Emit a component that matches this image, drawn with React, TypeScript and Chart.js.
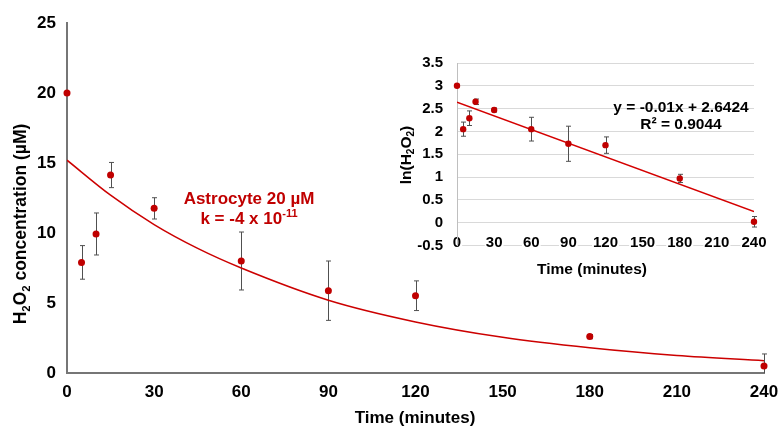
import React, { useEffect, useRef } from "react";
import { Chart, registerables } from "chart.js";
Chart.register(...registerables);

const FONT = '"Liberation Sans", Arial, Helvetica, sans-serif';

// ---- Data ----
const times = [0, 5, 10, 15, 30, 60, 90, 120, 180, 240];
const concentration = [20, 7.9, 9.93, 14.14, 11.76, 8.0, 5.88, 5.52, 2.6, 0.5];
const concentrationError = [0, 1.2, 1.5, 0.9, 0.76, 2.07, 2.12, 1.06, 0.15, 0.86];

const fitTimes = [0, 15, 30, 45, 60, 90, 120, 150, 180, 210, 240];
const fitConcentration = [15.2, 12.7, 10.6, 8.9, 7.5, 5.2, 3.65, 2.55, 1.8, 1.25, 0.88];

const lnConcentration = [3.0, 2.05, 2.29, 2.65, 2.47, 2.05, 1.73, 1.7, 0.97, 0.02];
const lnError = [0, 0.155, 0.16, 0.06, 0.045, 0.26, 0.385, 0.18, 0.09, 0.115];

const trendTimes = [0, 240];
const trendLn = [2.6424, 0.2424];

type Seg = { t: string; sub?: boolean; sup?: boolean };
const mainYTitle: Seg[] = [
  { t: "H" }, { t: "2", sub: true }, { t: "O" }, { t: "2", sub: true }, { t: " concentration (µM)" },
];
const xTitle: Seg[] = [{ t: "Time (minutes)" }];
const insetYTitle: Seg[] = [
  { t: "ln(H" }, { t: "2", sub: true }, { t: "O" }, { t: "2", sub: true }, { t: ")" },
];
const annotationLine1: Seg[] = [{ t: "Astrocyte 20 µM" }];
const annotationLine2: Seg[] = [{ t: "k = -4 x 10" }, { t: "-11", sup: true }];
const equationLine1: Seg[] = [{ t: "y = -0.01x + 2.6424" }];
const equationLine2: Seg[] = [{ t: "R² = 0.9044" }];

const RED = "#C00000";

function drawRich(
  ctx: CanvasRenderingContext2D,
  segs: Seg[],
  cx: number,
  cy: number,
  size: number,
  color: string,
  rotate = false
) {
  const small = size * 0.65;
  const widths = segs.map((s) => {
    ctx.font = `bold ${s.sub || s.sup ? small : size}px ${FONT}`;
    return ctx.measureText(s.t).width;
  });
  const total = widths.reduce((a, b) => a + b, 0);
  ctx.save();
  ctx.translate(cx, cy);
  if (rotate) ctx.rotate(-Math.PI / 2);
  ctx.fillStyle = color;
  ctx.textBaseline = "alphabetic";
  ctx.textAlign = "left";
  let x = -total / 2;
  const base = size * 0.36;
  segs.forEach((s, i) => {
    ctx.font = `bold ${s.sub || s.sup ? small : size}px ${FONT}`;
    const dy = s.sub ? base + size * 0.22 : s.sup ? base - size * 0.42 : base;
    ctx.fillText(s.t, x, dy);
    x += widths[i];
  });
  ctx.restore();
}

function errorBars(id: string, xs: number[], ys: number[], errs: number[], color: string, cap: number) {
  return {
    id,
    beforeDatasetsDraw(chart: any) {
      const { ctx, chartArea, scales } = chart;
      ctx.save();
      ctx.beginPath();
      ctx.rect(chartArea.left - 6, chartArea.top, chartArea.right - chartArea.left + 12, chartArea.bottom - chartArea.top);
      ctx.clip();
      ctx.strokeStyle = color;
      ctx.lineWidth = 1;
      xs.forEach((xv, i) => {
        const e = errs[i];
        if (!e) return;
        const px = Math.round(scales.x.getPixelForValue(xv)) + 0.5;
        const top = scales.y.getPixelForValue(ys[i] + e);
        const bot = scales.y.getPixelForValue(ys[i] - e);
        ctx.beginPath();
        ctx.moveTo(px, top);
        ctx.lineTo(px, bot);
        ctx.moveTo(px - cap, top);
        ctx.lineTo(px + cap, top);
        ctx.moveTo(px - cap, bot);
        ctx.lineTo(px + cap, bot);
        ctx.stroke();
      });
      ctx.restore();
    },
  };
}

const fixX = (h: number) => (s: any) => {
  s.height = h;
  s.paddingLeft = 0;
  s.paddingRight = 0;
};
const fixY = (w: number) => (s: any) => {
  s.width = w;
  s.paddingTop = 0;
  s.paddingBottom = 0;
};

export default function App() {
  const mainRef = useRef<HTMLCanvasElement>(null);
  const insetRef = useRef<HTMLCanvasElement>(null);

  useEffect(() => {
    Chart.defaults.font.family = FONT;
    const main = new Chart(mainRef.current!, {
      type: "scatter",
      data: {
        datasets: [
          {
            data: times.map((t, i) => ({ x: t, y: concentration[i] })),
            backgroundColor: RED,
            borderColor: RED,
            pointRadius: 3.5,
            pointHoverRadius: 3.5,
            borderWidth: 0,
            clip: false,
          },
          {
            data: fitTimes.map((t, i) => ({ x: t, y: fitConcentration[i] })),
            showLine: true,
            borderColor: "#CC0000",
            borderWidth: 1.5,
            pointRadius: 0,
            cubicInterpolationMode: "monotone",
            fill: false,
          },
        ],
      },
      options: {
        animation: false,
        responsive: false,
        events: [],
        layout: { padding: { left: 0, top: 23, right: 15, bottom: 0 } },
        plugins: { legend: { display: false }, tooltip: { enabled: false } },
        scales: {
          x: {
            type: "linear",
            min: 0,
            max: 240,
            afterFit: fixX(54),
            grid: { display: false, drawTicks: false },
            border: { display: true, color: "#767676", width: 2 },
            ticks: {
              stepSize: 30,
              autoSkip: false,
              maxRotation: 0,
              padding: 9,
              color: "#000",
              font: { size: 17, weight: "bold" },
              callback: (v: any) => String(v),
            },
          },
          y: {
            min: 0,
            max: 25,
            afterFit: fixY(67),
            grid: { display: false, drawTicks: false },
            border: { display: true, color: "#767676", width: 2 },
            ticks: {
              stepSize: 5,
              padding: 11,
              color: "#000",
              font: { size: 17, weight: "bold" },
              callback: (v: any) => String(v),
            },
          },
        },
      },
      plugins: [
        errorBars("mainErr", times, concentration, concentrationError, "#505050", 2.5),
        {
          id: "mainText",
          afterDraw(chart: any) {
            const ctx = chart.ctx;
            drawRich(ctx, mainYTitle, 20, 224, 17.5, "#000", true);
            drawRich(ctx, xTitle, 415, 417, 17, "#000");
            drawRich(ctx, annotationLine1, 249, 198, 17, RED);
            drawRich(ctx, annotationLine2, 249, 218, 17, RED);
          },
        },
      ],
    } as any);

    const inset = new Chart(insetRef.current!, {
      type: "scatter",
      data: {
        datasets: [
          {
            data: times.map((t, i) => ({ x: t, y: lnConcentration[i] })),
            backgroundColor: RED,
            borderColor: RED,
            pointRadius: 3.2,
            pointHoverRadius: 3.2,
            borderWidth: 0,
            clip: false,
          },
          {
            data: trendTimes.map((t, i) => ({ x: t, y: trendLn[i] })),
            showLine: true,
            borderColor: "#D40000",
            borderWidth: 1.5,
            pointRadius: 0,
            fill: false,
          },
        ],
      },
      options: {
        animation: false,
        responsive: false,
        events: [],
        layout: { padding: { left: 0, top: 18, right: 21, bottom: 0 } },
        plugins: { legend: { display: false }, tooltip: { enabled: false } },
        scales: {
          x: {
            type: "linear",
            min: 0,
            max: 240,
            afterFit: fixX(39.5),
            grid: { display: false, drawTicks: false },
            border: { display: false },
            ticks: {
              stepSize: 30,
              autoSkip: false,
              maxRotation: 0,
              mirror: true,
              padding: -6.5,
              color: "#000",
              font: { size: 15, weight: "bold" },
              showLabelBackdrop: true,
              backdropColor: "#fff",
              backdropPadding: 1,
              callback: (v: any) => String(v),
            },
          },
          y: {
            min: -0.5,
            max: 3.5,
            afterFit: fixY(77),
            grid: { display: true, color: "#D9D9D9", lineWidth: 1, drawTicks: false },
            border: { display: true, color: "#BFBFBF", width: 1 },
            ticks: {
              stepSize: 0.5,
              padding: 14,
              color: "#000",
              font: { size: 15, weight: "bold" },
              callback: (v: any) => String(v),
            },
          },
        },
      },
      plugins: [
        errorBars("insetErr", times, lnConcentration, lnError, "#505050", 2.5),
        {
          id: "insetText",
          afterDraw(chart: any) {
            const ctx = chart.ctx;
            drawRich(ctx, insetYTitle, 25, 110, 15.5, "#000", true);
            drawRich(ctx, xTitle, 212, 223, 15.5, "#000");
            drawRich(ctx, equationLine1, 301, 61, 15.5, "#000");
            drawRich(ctx, equationLine2, 301, 78, 15.5, "#000");
          },
        },
      ],
    } as any);

    return () => {
      main.destroy();
      inset.destroy();
    };
  }, []);

  return (
    <div style={{ position: "absolute", left: 0, top: 0, width: 779, height: 427, background: "#fff" }}>
      <canvas ref={mainRef} width={779} height={427} style={{ position: "absolute", left: 0, top: 0 }} />
      <canvas ref={insetRef} width={395} height={240} style={{ position: "absolute", left: 380, top: 45 }} />
    </div>
  );
}
